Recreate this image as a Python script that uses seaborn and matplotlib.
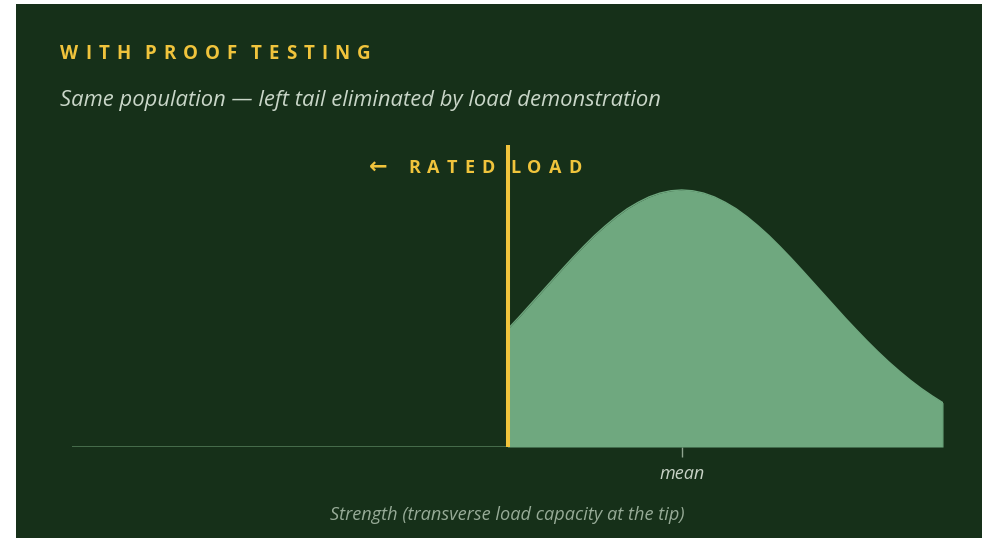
import matplotlib
matplotlib.use('Agg')
import matplotlib.pyplot as plt
import seaborn as sns
import pandas as pd
from matplotlib.patches import Rectangle

# strength values (arbitrary units, axis runs 0..10) and relative density
strength = [5.0, 5.125, 5.25, 5.375, 5.5, 5.625, 5.75, 5.875, 6.0, 6.125, 6.25,
            6.375, 6.5, 6.625, 6.75, 6.875, 7.0, 7.125, 7.25, 7.375, 7.5,
            7.625, 7.75, 7.875, 8.0, 8.125, 8.25, 8.375, 8.5, 8.625, 8.75,
            8.875, 9.0, 9.125, 9.25, 9.375, 9.5, 9.625, 9.75, 9.875, 10.0]
density = [0.458, 0.503, 0.550, 0.597, 0.644, 0.691, 0.737, 0.781, 0.823, 0.861, 0.896,
           0.927, 0.952, 0.973, 0.988, 0.997, 1.000, 0.997, 0.988, 0.973, 0.952,
           0.927, 0.896, 0.861, 0.823, 0.781, 0.737, 0.691, 0.644, 0.597, 0.550,
           0.503, 0.458, 0.414, 0.372, 0.332, 0.295, 0.260, 0.228, 0.199, 0.172]
rated_load = 5.0
mean_strength = 7.0
x_range = (0, 10)

title = 'WITH PROOF TESTING'
subtitle = 'Same population \u2014 left tail eliminated by load demonstration'
rated_label = 'RATED LOAD'
xlabel = 'Strength (transverse load capacity at the tip)'

BG = '#163019'
FILL = '#6fa87f'
YELLOW = '#f0c43c'
SUB = '#c9d6c8'
AXIS = '#4f7755'
MUTED = '#97ab97'

W, H = 987, 538

sns.set_theme(style='white')
plt.rcParams['font.family'] = ['Open Sans', 'DejaVu Sans']

fig = plt.figure(figsize=(W / 100, H / 100), dpi=100, facecolor='white')
fig.patches.append(Rectangle((16 / W, 0), 966 / W, 534 / H, transform=fig.transFigure,
                             facecolor=BG, edgecolor='none', zorder=-5))

ax = fig.add_axes([72 / W, 1 - 447 / H, 871 / W, 302 / H])
ax.set_facecolor('none')

df = pd.DataFrame({'strength': strength, 'density': density})
ax.fill_between(df['strength'], 0, df['density'], color=FILL, lw=0, zorder=2)
sns.lineplot(data=df, x='strength', y='density', ax=ax, color=FILL, lw=1, zorder=2)
ax.plot([strength[-1], strength[-1]], [0, density[-1]], color='#4f8a5f', lw=1, zorder=2)

ax.axhline(0, color=AXIS, lw=1.2, zorder=1)
ax.axvline(rated_load, color=YELLOW, lw=2.9, zorder=3)

ax.set_xlim(*x_range)
ax.set_ylim(0, 1.175)
ax.set_yticks([])
ax.set_xticks([mean_strength])
ax.set_xticklabels(['mean'], fontstyle='italic', fontsize=13, color='#c8d2c6')
ax.tick_params(axis='x', length=7.2, width=1, color='#8fa48f', pad=6, bottom=True)
ax.set_xlabel('')
ax.set_ylabel('')
for s in ax.spines.values():
    s.set_visible(False)

fig.text(507 / W, 1 - 515 / H, xlabel, fontstyle='italic', fontsize=13.1,
         color=MUTED, ha='center', va='center')
fig.text(60 / W, 1 - 106 / H, subtitle, fontstyle='italic', fontsize=15.8,
         color=SUB, ha='left', va='baseline')

renderer = fig.canvas.get_renderer()


def tracked(x_px, y_px, s, tracking, space, **kw):
    x = x_px
    for ch in s:
        if ch == ' ':
            x += space
            continue
        t = fig.text(x / W, 1 - y_px / H, ch, ha='left', va='baseline', **kw)
        x += t.get_window_extent(renderer).width + tracking
    return x


tracked(60, 59.3, title, 7.0, 7, fontsize=13.5, fontweight='bold', color=YELLOW)
fig.text(369 / W, 1 - 167 / H, '\u2190', fontsize=16, fontweight='bold',
         color=YELLOW, ha='left', va='center', family=['DejaVu Sans'])
tracked(408, 173.3, rated_label, 7.2, 8, fontsize=13, fontweight='bold', color=YELLOW)

fig.savefig('out.png', dpi=100, facecolor='white')
